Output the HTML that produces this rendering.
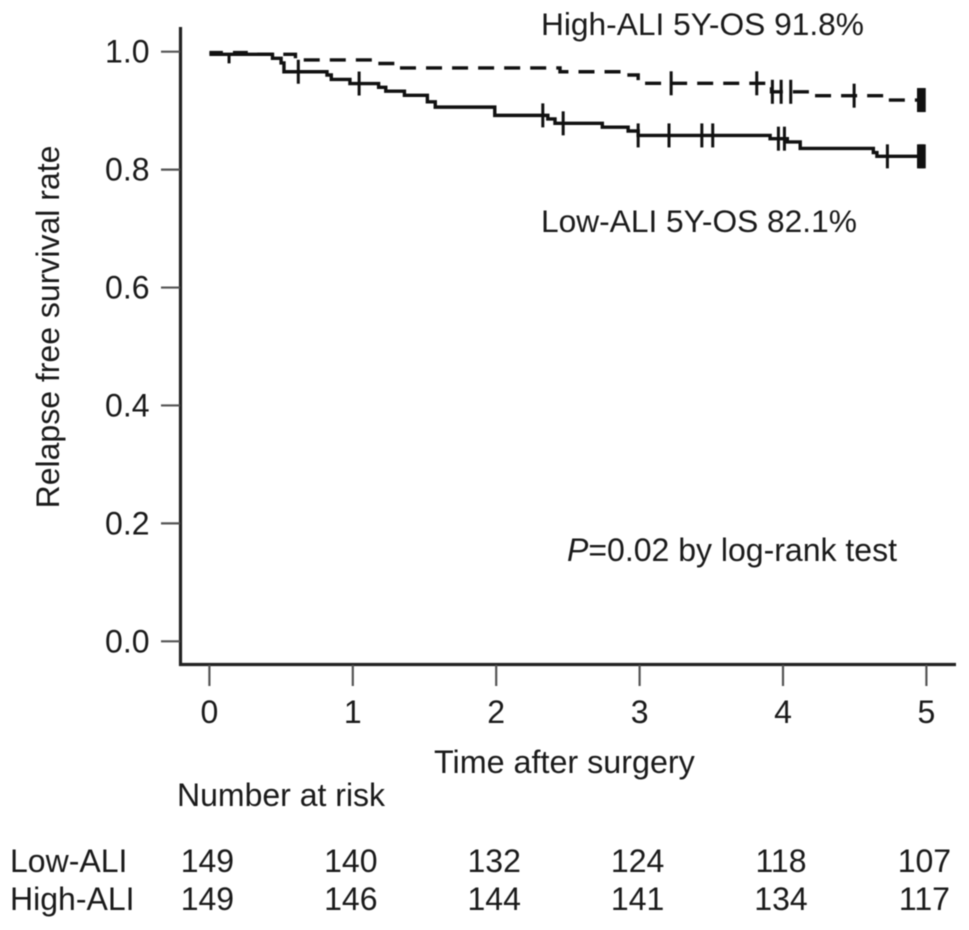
<!DOCTYPE html>
<html lang="en">
<head>
<meta charset="utf-8">
<title>Relapse free survival by ALI group</title>
<style>
  html, body { margin: 0; padding: 0; background: #fff; }
  svg { display: block; filter: blur(0.45px); }
  text { font-family: "Liberation Sans", sans-serif; font-size: 32px; fill: #1a1a1a; }
</style>
</head>
<body>
<svg id="chart" xmlns="http://www.w3.org/2000/svg" width="969" height="930" viewBox="0 0 969 930">
  <rect width="969" height="930" fill="#fff"/>
  <text transform="translate(59,327) rotate(-90)" text-anchor="middle">Relapse free survival rate</text>
  <text x="434" y="773" style="font-size:32.3px">Time after surgery</text>
  <text x="541" y="35" style="font-size:31.7px">High-ALI 5Y-OS 91.8%</text>
  <text x="541" y="232" style="font-size:31.7px">Low-ALI 5Y-OS 82.1%</text>
  <text x="567" y="561"><tspan font-style="italic">P</tspan>=0.02 by log-rank test</text>
  <text x="177" y="806">Number at risk</text>
  <text x="10" y="872">Low-ALI</text>
  <text x="10" y="910">High-ALI</text>
  <g id="axes"></g>
  <g id="series"></g>
  <g id="risk"></g>
</svg>
<script>
const xTicks = [0, 1, 2, 3, 4, 5];
const yTicks = ["0.0", "0.2", "0.4", "0.6", "0.8", "1.0"];

const lowTimes = [0, 0.44, 0.5, 0.52, 0.82, 0.85, 0.98, 1.18, 1.23, 1.36, 1.52, 1.575, 1.99, 2.36, 2.41, 2.74, 2.92, 2.99, 3.91, 4.03, 4.12, 4.63, 4.655];
const lowSurvival = [0.9955, 0.9888, 0.981, 0.966, 0.9605, 0.953, 0.946, 0.9396, 0.933, 0.926, 0.915, 0.906, 0.892, 0.886, 0.8785, 0.872, 0.8655, 0.858, 0.8525, 0.847, 0.836, 0.829, 0.8225];
const highTimes = [0, 0.256, 0.6, 1.155, 1.316, 2.445, 2.91, 2.99, 3.887, 3.92, 4.19, 4.72];
const highSurvival = [0.9985, 0.9955, 0.986, 0.98, 0.9725, 0.966, 0.9605, 0.9464, 0.9396, 0.932, 0.9254, 0.918];
const endTime = 4.985;

const lowCensor = [0.62, 1.044, 2.325, 2.467, 2.99, 3.205, 3.434, 3.51, 3.968, 4.01, 4.728, 4.945, 4.955, 4.965, 4.975, 4.985];
const highCensor = [3.22, 3.817, 3.926, 3.987, 4.054, 4.496, 4.945, 4.955, 4.965, 4.975, 4.985];
const earlyCensor = [0.137];

const lowRisk = [149, 140, 132, 124, 118, 107];
const highRisk = [149, 146, 144, 141, 134, 117];

const NS = "http://www.w3.org/2000/svg";
function xScale(t) { return 209.4 + t * 143.4; }
function yScale(s) { return 641.3 - s * 589.6; }

function make(tag, parent, attrs) {
  const el = document.createElementNS(NS, tag);
  for (const k in attrs) el.setAttribute(k, attrs[k]);
  parent.appendChild(el);
  return el;
}
function survivalAt(times, vals, t) {
  let s = vals[0];
  for (let i = 0; i < times.length; i++) { if (times[i] <= t) s = vals[i]; }
  return s;
}
function stepPath(times, vals) {
  let d = "M" + xScale(times[0]) + " " + yScale(vals[0]);
  for (let i = 1; i < times.length; i++) {
    d += "L" + xScale(times[i]) + " " + yScale(vals[i - 1]);
    d += "L" + xScale(times[i]) + " " + yScale(vals[i]);
  }
  d += "L" + xScale(endTime) + " " + yScale(vals[vals.length - 1]);
  return d;
}

const axes = document.getElementById("axes");
const series = document.getElementById("series");
const risk = document.getElementById("risk");

const yAxisLine = make("line", axes, { x1: 180.5, x2: 180.5, y1: 27, y2: 666, stroke: "#222", "stroke-width": 3.2 });


const xAxisLine = make("line", axes, { x1: 179, x2: 956, y1: 664.5, y2: 664.5, stroke: "#222", "stroke-width": 3.2 });



xTicks.forEach(function (t) {
  const tick = make("line", axes, { x1: xScale(t), x2: xScale(t), y1: 665, y2: 686, stroke: "#555", "stroke-width": 2.2 });
  
  
  const label = make("text", axes, { x: xScale(t), y: 723, "text-anchor": "middle" });
  
  
  label.textContent = t;
});
yTicks.forEach(function (v) {
  const y = yScale(parseFloat(v));
  const tick = make("line", axes, { x1: 161, x2: 180, y1: y, y2: y, stroke: "#555", "stroke-width": 2.2 });
  
  
  const label = make("text", axes, { x: 149.5, y: y + 11, "text-anchor": "end" });
  
  
  label.textContent = v;
});

const highLine = make("path", series, { d: stepPath(highTimes, highSurvival), fill: "none", stroke: "#111", "stroke-width": 3.4, "stroke-dasharray": "16 10.05", "stroke-dashoffset": -23.55 });


const lowLine = make("path", series, { d: stepPath(lowTimes, lowSurvival), fill: "none", stroke: "#111", "stroke-width": 3.4 });



lowCensor.forEach(function (t) {
  const y = yScale(survivalAt(lowTimes, lowSurvival, t));
  const m = make("line", series, { x1: xScale(t), x2: xScale(t), y1: y - 12, y2: y + 12, stroke: "#111", "stroke-width": 3 });
  
  
});
highCensor.forEach(function (t) {
  const y = yScale(survivalAt(highTimes, highSurvival, t));
  const m = make("line", series, { x1: xScale(t), x2: xScale(t), y1: y - 12, y2: y + 12, stroke: "#111", "stroke-width": 3 });
  
  
});
earlyCensor.forEach(function (t) {
  const y = yScale(survivalAt(lowTimes, lowSurvival, t));
  const m = make("line", series, { x1: xScale(t), x2: xScale(t), y1: y, y2: y + 9, stroke: "#111", "stroke-width": 3 });
  
  
});

lowRisk.forEach(function (n, i) {
  const c = make("text", risk, { x: xScale(xTicks[i]) - 2, y: 872, "text-anchor": "middle" });
  
  
  c.textContent = n;
});
highRisk.forEach(function (n, i) {
  const c = make("text", risk, { x: xScale(xTicks[i]) - 2, y: 910, "text-anchor": "middle" });
  
  
  c.textContent = n;
});
</script>
</body>
</html>
